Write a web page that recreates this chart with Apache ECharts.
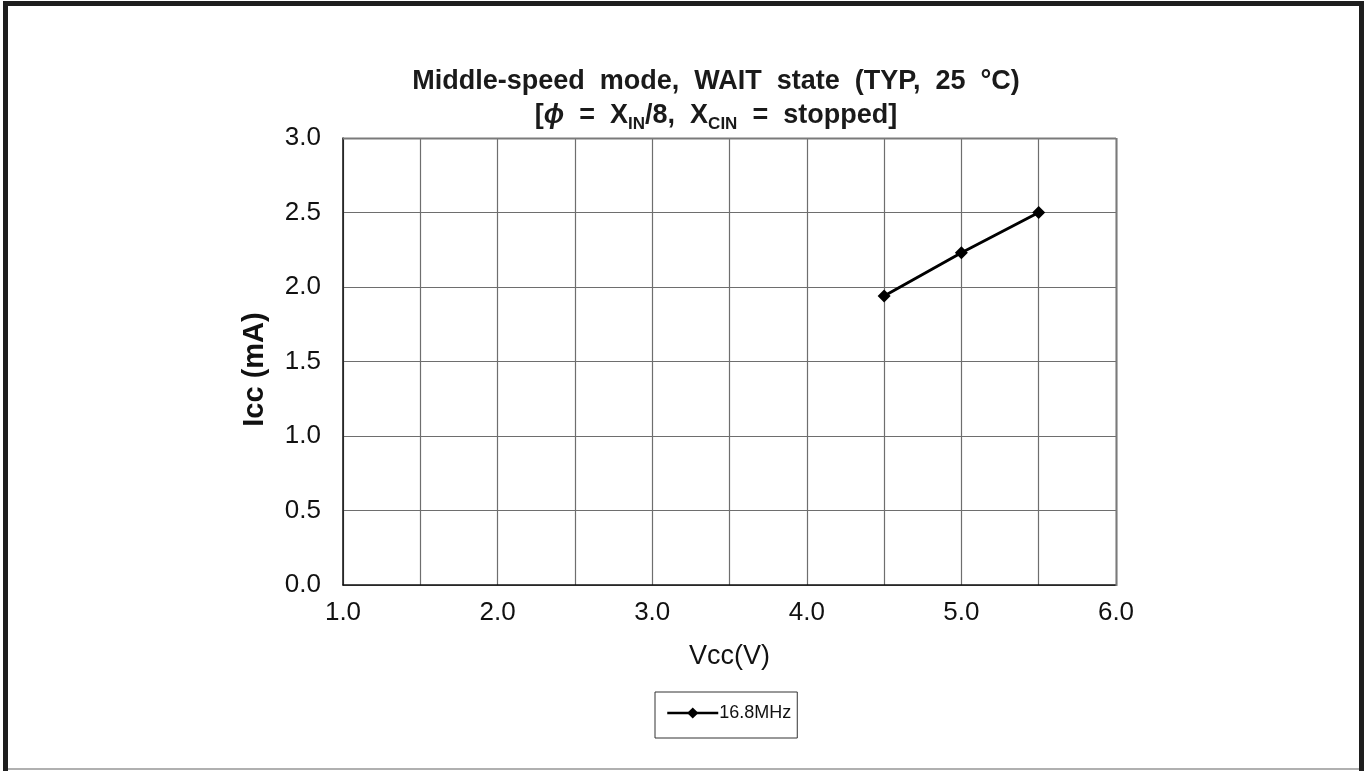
<!DOCTYPE html>
<html>
<head>
<meta charset="utf-8">
<script src="https://cdn.jsdelivr.net/npm/echarts@6/dist/echarts.min.js"></script>
<style>
  html, body { margin: 0; padding: 0; background: #fff; }
  #chart { width: 1367px; height: 771px; }
</style>
</head>
<body>
<div id="chart"></div>
<script>
// Supply voltage (V) and supply current (mA) at 16.8 MHz
const vcc = [4.5, 5.0, 5.5];
const icc16_8 = [1.94, 2.23, 2.50];
const seriesName = '16.8MHz';
const xTicks = [1.0, 2.0, 3.0, 4.0, 5.0, 6.0];
const yTicks = [0.0, 0.5, 1.0, 1.5, 2.0, 2.5, 3.0];

const chart = echarts.init(document.getElementById('chart'));
const FONT = '"Liberation Sans", Arial, sans-serif';

// two-line chart heading, words set with wide spacing
const titleLine1 = 'Middle-speed  mode,  WAIT  state  (TYP,  25  °C)';

chart.setOption({
  animation: false,
  backgroundColor: '#ffffff',
  textStyle: { fontFamily: FONT },
  title: {
    text: '{b|' + titleLine1 + '}\n{b|[}{phi|ϕ}{b|  =  X}{s|IN}{b|/8,  X}{s|CIN}{b|  =  stopped]}',
    left: 711,
    top: 60,
    textAlign: 'center',
    textStyle: {
      fontFamily: FONT,
      fontSize: 27,
      fontWeight: 'bold',
      color: '#1a1a1a',
      lineHeight: 34,
      rich: {
        b: { fontFamily: FONT, fontSize: 27, fontWeight: 'bold', color: '#1a1a1a', lineHeight: 34 },
        phi: { fontFamily: FONT, fontSize: 27, fontWeight: 'bold', fontStyle: 'italic', color: '#1a1a1a', lineHeight: 34 },
        s: { fontFamily: FONT, fontSize: 17, fontWeight: 'bold', color: '#1a1a1a', lineHeight: 31, verticalAlign: 'bottom' }
      }
    }
  },
  grid: { left: 343, top: 138, width: 773, height: 447, containLabel: false },
  legend: {
    data: [seriesName],
    left: 655,
    top: 692,
    itemWidth: 51,
    itemHeight: 14,
    itemGap: 2,
    padding: [12, 6, 16, 11],
    borderColor: '#333',
    borderWidth: 1,
    borderRadius: 0,
    lineStyle: { width: 2.5, color: '#000' },
    textStyle: { fontFamily: FONT, fontSize: 18, color: '#111', padding: [0, 0, 0, -4] }
  },
  xAxis: {
    type: 'value',
    min: 1,
    max: 6,
    interval: 0.5,
    name: 'Vcc(V)',
    nameLocation: 'middle',
    nameGap: 58,
    nameTextStyle: { fontFamily: FONT, fontSize: 27, color: '#111' },
    axisLine: { show: true, onZero: false, lineStyle: { color: '#111', width: 1.5 } },
    axisTick: { show: false },
    axisLabel: {
      margin: 15,
      fontFamily: FONT,
      fontSize: 26,
      color: '#111',
      formatter: v => (xTicks.some(t => Math.abs(t - v) < 1e-9) ? v.toFixed(1) : '')
    },
    splitLine: { show: true, lineStyle: { color: '#6e6e6e', width: 1.2 } }
  },
  yAxis: {
    type: 'value',
    min: 0,
    max: 3,
    interval: 0.5,
    name: 'Icc (mA)',
    nameLocation: 'middle',
    nameGap: 74,
    nameTextStyle: { fontFamily: FONT, fontSize: 29, fontWeight: 'bold', color: '#111', padding: [0, 16, 0, 0] },
    axisLine: { show: true, lineStyle: { color: '#111', width: 1.5 } },
    axisTick: { show: false },
    axisLabel: {
      margin: 22,
      fontFamily: FONT,
      fontSize: 26,
      color: '#111',
      formatter: v => (yTicks.some(t => Math.abs(t - v) < 1e-9) ? v.toFixed(1) : '')
    },
    splitLine: { show: true, lineStyle: { color: '#6e6e6e', width: 1.2 } }
  },
  graphic: [
    // outer frame of the figure
    { type: 'rect', shape: { x: 3, y: 1, width: 5, height: 770 }, style: { fill: '#1e1e1e' }, silent: true },
    { type: 'rect', shape: { x: 3, y: 1, width: 1361, height: 5 }, style: { fill: '#1e1e1e' }, silent: true },
    { type: 'rect', shape: { x: 1359, y: 1, width: 5, height: 770 }, style: { fill: '#1e1e1e' }, silent: true },
    { type: 'rect', shape: { x: 8, y: 768, width: 1351, height: 2 }, style: { fill: '#b0b0b0' }, silent: true },
    // top and right edges of the plot frame
    { type: 'line', shape: { x1: 343, y1: 138.5, x2: 1116, y2: 138.5 }, style: { stroke: '#7a7a7a', lineWidth: 2 }, silent: true, z: 10 },
    { type: 'line', shape: { x1: 1116.5, y1: 138, x2: 1116.5, y2: 586 }, style: { stroke: '#7a7a7a', lineWidth: 2 }, silent: true, z: 10 }
  ],
  series: [
    {
      name: seriesName,
      type: 'line',
      data: vcc.map((v, i) => [v, icc16_8[i]]),
      symbol: 'diamond',
      symbolSize: 13,
      lineStyle: { color: '#000', width: 3 },
      itemStyle: { color: '#000' },
      z: 20
    }
  ]
});
</script>
</body>
</html>
